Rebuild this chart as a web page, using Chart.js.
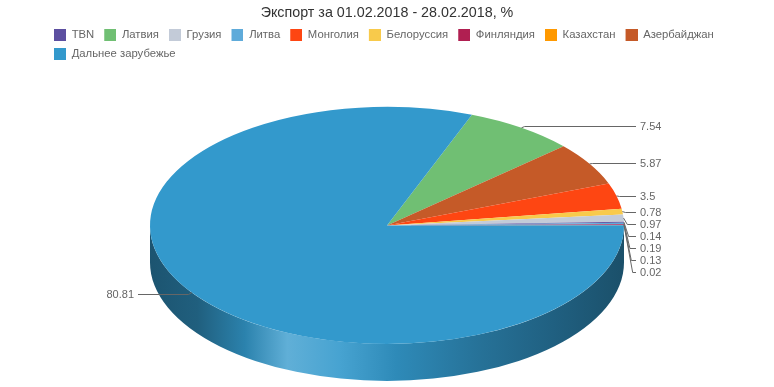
<!DOCTYPE html>
<html>
<head>
<meta charset="utf-8">
<script src="https://cdn.jsdelivr.net/npm/chart.js@4.4.1/dist/chart.umd.min.js"></script>
<style>
html,body{margin:0;padding:0;background:#ffffff;}
#wrap{width:774px;height:387px;position:relative;}
</style>
</head>
<body>
<div id="wrap"><canvas id="c" width="774" height="387"></canvas></div>
<script>
// ---- data (slice order, clockwise) ----
const chartTitle = 'Экспорт за 01.02.2018 - 28.02.2018, %';
const categories = ['Латвия', 'Азербайджан', 'Монголия', 'Белоруссия', 'Грузия', 'TBN', 'Литва', 'Финляндия', 'Казахстан', 'Дальнее зарубежье'];
const values = [7.54, 5.87, 3.5, 0.78, 0.97, 0.14, 0.19, 0.13, 0.02, 80.81];
const colors = ['#70bf73', '#c55a28', '#fe4612', '#f8ca4b', '#c3cbd8', '#5c4fa0', '#5fabda', '#b01f51', '#ff9900', '#3399cc'];
const legendOrder = ['TBN', 'Латвия', 'Грузия', 'Литва', 'Монголия', 'Белоруссия', 'Финляндия', 'Казахстан', 'Азербайджан', 'Дальнее зарубежье'];

// ---- style ----
const FONT = '"Liberation Sans", Arial, sans-serif';
const PIE = { radius: 237, tilt: 0.5, depth: 37 };
const LABEL = { font: '11px ' + FONT, color: '#666666', lineOut: 12, textOut: 16, spacing: 12 };

function hexToRgb(h) { const n = parseInt(h.slice(1), 16); return [(n >> 16) & 255, (n >> 8) & 255, n & 255]; }
function shade(hex, f) {
  const c = hexToRgb(hex);
  const out = f <= 1 ? c.map(v => Math.round(v * f)) : c.map(v => Math.round(v + (255 - v) * (f - 1)));
  return 'rgb(' + out.join(',') + ')';
}
const SIDE_STOPS = [[0, 0.55], [0.1, 0.62], [0.2, 0.85], [0.29, 1.22], [0.4, 1.1], [0.52, 0.9], [0.7, 0.74], [0.85, 0.63], [1, 0.52]];

// legend swatch: 12x12 square with a 2px lead-in gap
function swatch(color) {
  const cv = document.createElement('canvas');
  cv.width = 14; cv.height = 12;
  const c = cv.getContext('2d');
  c.fillStyle = color;
  c.fillRect(2, 0, 12, 12);
  return cv;
}

const pie3d = {
  id: 'pie3d',
  beforeDatasetsDraw(chart) {
    const ctx = chart.ctx;
    const arcs = chart.getDatasetMeta(0).data;
    if (!arcs.length) return;
    const p0 = arcs[0].getProps(['x', 'y', 'outerRadius']);
    const cx = p0.x, cy = p0.y, r = p0.outerRadius, ry = r * PIE.tilt;
    arcs.forEach((arc, i) => {
      const p = arc.getProps(['startAngle', 'endAngle']);
      const g = ctx.createLinearGradient(cx - r, 0, cx + r, 0);
      SIDE_STOPS.forEach(([pos, f]) => g.addColorStop(pos, shade(colors[i], f)));
      for (let k = -1; k <= 2; k++) {
        const lo = Math.max(p.startAngle, 2 * Math.PI * k);
        const hi = Math.min(p.endAngle, 2 * Math.PI * k + Math.PI);
        if (hi <= lo) continue;
        ctx.save();
        ctx.beginPath();
        ctx.ellipse(cx, cy, r, ry, 0, lo, hi, false);
        ctx.ellipse(cx, cy + PIE.depth, r, ry, 0, hi, lo, true);
        ctx.closePath();
        ctx.fillStyle = g;
        ctx.fill();
        ctx.restore();
      }
    });
    ctx.save();
    ctx.translate(cx, cy);
    ctx.scale(1, PIE.tilt);
    ctx.translate(-cx, -cy);
  },
  afterDatasetsDraw(chart) {
    const ctx = chart.ctx;
    ctx.restore();
    const arcs = chart.getDatasetMeta(0).data;
    if (!arcs.length) return;
    const p0 = arcs[0].getProps(['x', 'y', 'outerRadius']);
    const cx = p0.x, cy = p0.y, r = p0.outerRadius, ry = r * PIE.tilt;
    const items = arcs.map((arc, i) => {
      const p = arc.getProps(['startAngle', 'endAngle']);
      const mid = (p.startAngle + p.endAngle) / 2;
      const c = Math.cos(mid), s = Math.sin(mid);
      return {
        text: String(values[i]),
        right: c >= 0,
        tx: cx + r * c, ty: cy + ry * s,
        natural: cy + (r + 5) * PIE.tilt * s + 0.5
      };
    });
    ['right', 'left'].forEach(side => {
      const list = items.filter(it => (side === 'right') === it.right).sort((a, b) => a.natural - b.natural);
      let prev = -Infinity;
      list.forEach(it => { it.ly = Math.max(it.natural, prev + LABEL.spacing); prev = it.ly; });
    });
    ctx.save();
    ctx.strokeStyle = LABEL.color;
    ctx.lineWidth = 1;
    ctx.font = LABEL.font;
    ctx.fillStyle = LABEL.color;
    ctx.textBaseline = 'middle';
    items.forEach(it => {
      const dir = it.right ? 1 : -1;
      const ly = Math.round(it.ly) + 0.5;
      const bx = it.tx + dir * (3 + 0.12 * Math.abs(ly - it.ty));
      const ex = cx + dir * (r + LABEL.lineOut);
      ctx.beginPath();
      ctx.moveTo(it.tx, it.ty);
      ctx.lineTo(bx, ly);
      ctx.lineTo(ex, ly);
      ctx.stroke();
      ctx.textAlign = it.right ? 'left' : 'right';
      ctx.fillText(it.text, cx + dir * (r + LABEL.textOut), ly);
    });
    ctx.restore();
  }
};

const baseLabels = (Chart.overrides.doughnut || Chart.overrides.pie).plugins.legend.labels.generateLabels;

new Chart(document.getElementById('c'), {
  type: 'pie',
  data: {
    labels: categories,
    datasets: [{
      data: values,
      backgroundColor: colors,
      borderWidth: 0,
      clip: false
    }]
  },
  options: {
    responsive: false,
    animation: false,
    events: [],
    rotation: 21,
    radius: PIE.radius,
    layout: { padding: { left: 44, right: 44, top: 0, bottom: 6 } },
    plugins: {
      title: {
        display: true,
        text: chartTitle,
        color: '#333333',
        font: { family: FONT, size: 14.3, weight: 'normal' },
        padding: { top: 4, bottom: 0 }
      },
      legend: {
        position: 'top',
        align: 'start',
        labels: {
          color: '#666666',
          font: { family: FONT, size: 11.3 },
          usePointStyle: true,
          pointStyleWidth: 14,
          boxHeight: 12,
          padding: 8,
          generateLabels(chart) {
            const items = baseLabels(chart);
            items.forEach(it => { it.pointStyle = swatch(colors[it.index]); });
            return items;
          },
          sort: (a, b) => legendOrder.indexOf(a.text) - legendOrder.indexOf(b.text)
        }
      },
      tooltip: { enabled: false }
    }
  },
  plugins: [pie3d]
});
</script>
</body>
</html>
